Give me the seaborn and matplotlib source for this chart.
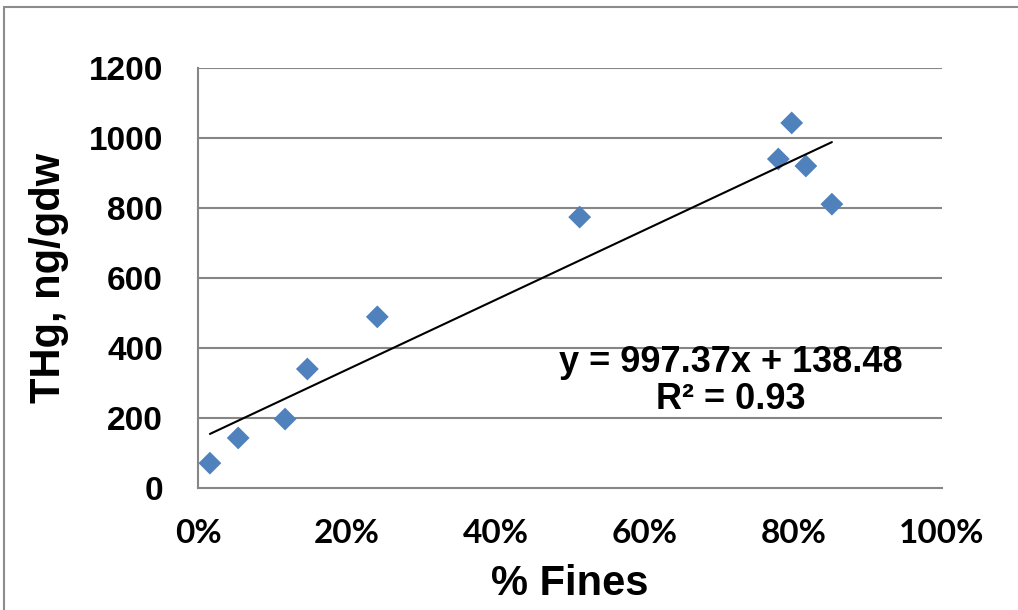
import matplotlib
matplotlib.use("Agg")
import matplotlib.pyplot as plt
import seaborn as sns
import numpy as np
import pandas as pd
from matplotlib.patches import Rectangle
from matplotlib.ticker import FuncFormatter

fines = [0.016, 0.054, 0.117, 0.147, 0.241, 0.513, 0.780, 0.798, 0.817, 0.852]
thg = [71, 143, 197, 340, 489, 774, 940, 1043, 920, 811]
slope = 997.37
intercept = 138.48
r2_label = "R² = 0.93"
x_ticks = [0, 0.2, 0.4, 0.6, 0.8, 1.0]
y_ticks = [0, 200, 400, 600, 800, 1000, 1200]

sns.set_theme(style="white")
plt.rcParams['font.family'] = ['Liberation Sans', 'DejaVu Sans']
plt.rcParams['font.weight'] = 'bold'
plt.rcParams['text.color'] = 'black'
plt.rcParams['axes.labelcolor'] = 'black'

fig = plt.figure(figsize=(10.18, 6.10), dpi=100)
ax = fig.add_axes([198/1018, 1 - 488/610, (942-198)/1018, (488-68)/610])

grid_c = '#868686'
for yv in y_ticks[1:]:
    ax.axhline(yv, color=grid_c, lw=1.5, zorder=1)

df = pd.DataFrame({"fines": fines, "thg": thg})
sns.scatterplot(data=df, x="fines", y="thg", marker='D', s=135, color='#4F81BD',
                edgecolor='none', ax=ax, zorder=3)

xs = np.array([min(fines), max(fines)])
ax.plot(xs, slope * xs + intercept, color='black', lw=1.5, zorder=4)

ax.set_xlim(0, 1.0)
ax.set_ylim(0, 1200)
ax.set_xticks(x_ticks)
ax.set_yticks(y_ticks)
ax.xaxis.set_major_formatter(FuncFormatter(lambda v, p: f"{v*100:.0f}%"))
ax.tick_params(axis='y', labelsize=24, labelcolor='black', color=grid_c,
               length=7.2, width=1.5, direction='out', pad=18)
ax.tick_params(axis='x', labelsize=24, labelcolor='black', color=grid_c,
               length=8.5, width=1.5, direction='out', pad=14)
for lab in ax.get_yticklabels():
    lab.set_fontweight('bold')
for lab in ax.get_xticklabels():
    lab.set_fontweight('bold')
    lab.set_family(['Lato', 'DejaVu Sans'])

for side in ['top', 'right']:
    ax.spines[side].set_visible(False)
for side in ['left', 'bottom']:
    ax.spines[side].set_color(grid_c)
    ax.spines[side].set_linewidth(1.5)

ax.set_xlabel("% Fines", fontsize=30, fontweight='bold', labelpad=11)
ax.set_ylabel("THg, ng/gdw", fontsize=30, fontweight='bold', labelpad=14)

ax.text(0.716, 306, f"y = {slope}x + {intercept}\n{r2_label}", fontsize=26,
        fontweight='bold', ha='center', va='center', linespacing=1.1, zorder=5)

fig.patches.append(Rectangle((4/1018, -0.1), 1.2, 1 - 7/610 + 0.1, transform=fig.transFigure,
                             fill=False, edgecolor='#8c8c8c', lw=1.5))

fig.savefig("out.png", dpi=100)
